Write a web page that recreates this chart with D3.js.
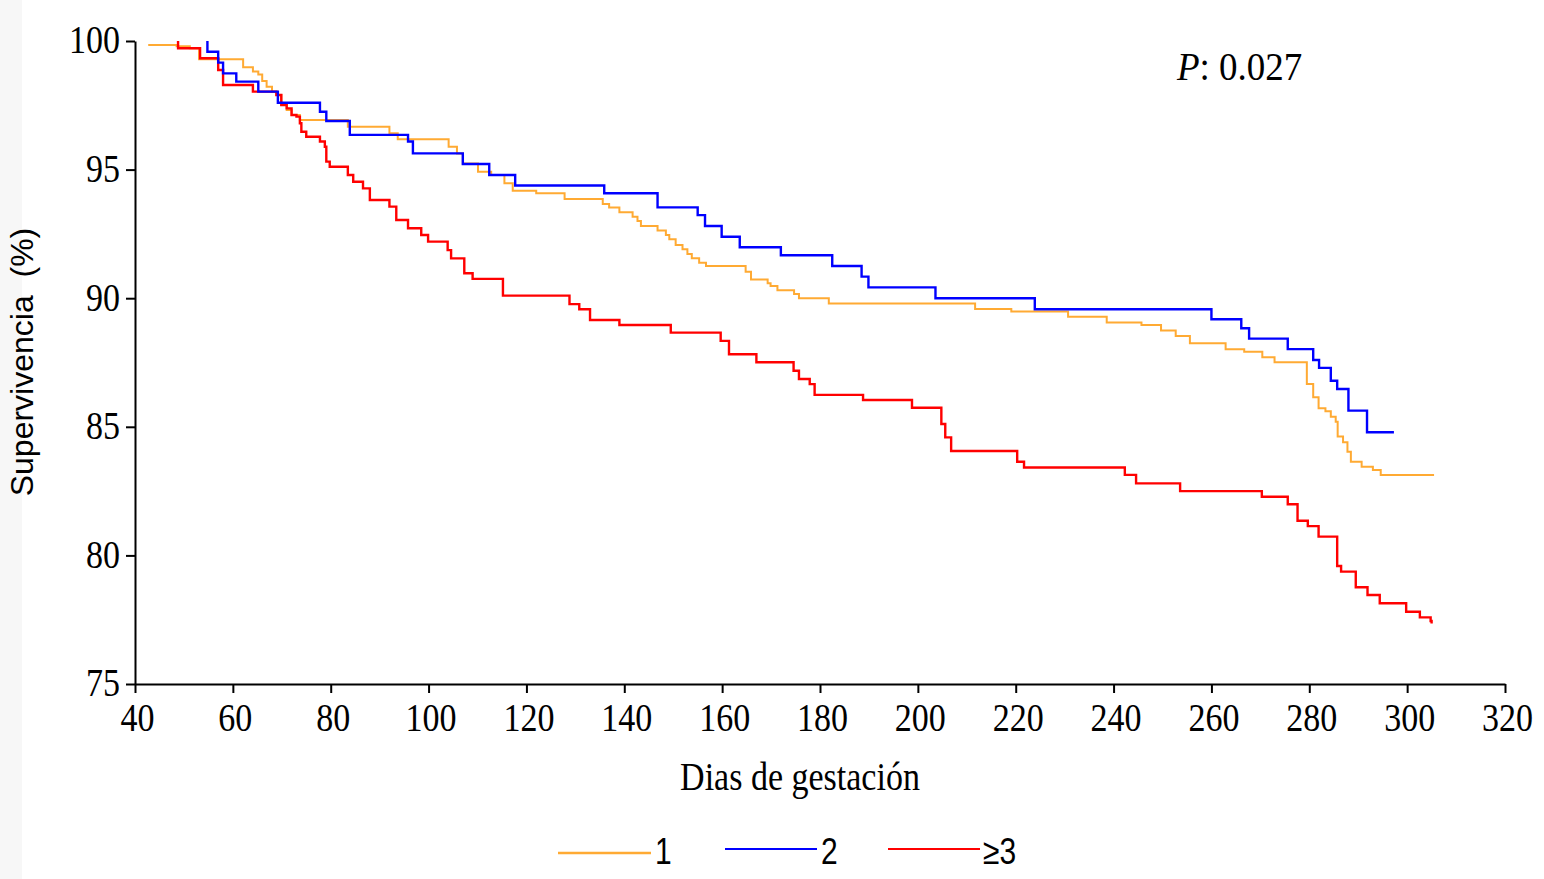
<!DOCTYPE html>
<html>
<head>
<meta charset="utf-8">
<script src="https://cdn.jsdelivr.net/npm/d3@7"></script>
<style>
    body { margin: 0; background: #ffffff; }
</style>
</head>
<body>
<svg id="chart"></svg>
<script>
// Kaplan-Meier curves (days, survival %)
const grp1Days = [42.7, 48.5, 51.2, 53.1, 62.1, 64.1, 65.2, 66.0, 66.9, 68.0, 68.9, 69.9, 71.0, 72.0, 73.7, 83.5, 92.0, 93.7, 104.1, 105.8, 107.0, 110.1, 112.8, 115.5, 117.2, 122.0, 127.8, 135.6, 136.9, 139.0, 141.7, 142.7, 143.4, 146.8, 148.5, 149.2, 150.5, 151.9, 152.9, 153.8, 155.3, 156.7, 164.8, 165.9, 169.3, 169.9, 171.3, 174.7, 175.7, 181.8, 211.7, 219.1, 230.7, 238.6, 245.7, 249.7, 252.7, 255.6, 262.9, 266.7, 270.4, 272.9, 279.5, 280.8, 281.9, 283.3, 284.4, 285.4, 285.8, 286.9, 287.8, 288.5, 290.7, 293.0, 294.6, 305.5];
const grp1Surv = [99.84, 99.80, 99.72, 99.29, 98.98, 98.81, 98.70, 98.44, 98.22, 98.03, 97.90, 97.51, 97.32, 97.12, 96.93, 96.67, 96.41, 96.18, 95.89, 95.63, 95.24, 94.92, 94.79, 94.47, 94.18, 94.08, 93.86, 93.66, 93.53, 93.34, 93.17, 93.00, 92.81, 92.63, 92.46, 92.29, 92.07, 91.90, 91.72, 91.55, 91.38, 91.25, 91.03, 90.73, 90.58, 90.47, 90.31, 90.16, 90.00, 89.79, 89.58, 89.48, 89.28, 89.06, 88.96, 88.74, 88.53, 88.25, 88.02, 87.92, 87.70, 87.51, 86.66, 86.15, 85.72, 85.60, 85.39, 85.20, 84.62, 84.40, 84.03, 83.64, 83.45, 83.32, 83.13, 83.13];

const grp2Days = [54.8, 54.8, 57.0, 58.0, 60.7, 65.2, 69.2, 77.8, 79.1, 83.9, 95.8, 96.8, 107.0, 112.4, 117.7, 135.9, 146.8, 155.0, 156.5, 159.9, 163.6, 172.0, 182.5, 188.5, 189.9, 203.6, 223.9, 260.0, 266.1, 267.7, 275.6, 280.8, 282.0, 284.4, 285.7, 288.0, 291.8, 297.3];
const grp2Surv = [100.0, 99.58, 99.16, 98.74, 98.42, 98.03, 97.60, 97.25, 96.89, 96.35, 96.09, 95.63, 95.22, 94.79, 94.38, 94.08, 93.53, 93.23, 92.81, 92.39, 91.98, 91.67, 91.25, 90.84, 90.42, 90.00, 89.57, 89.18, 88.83, 88.43, 88.02, 87.60, 87.29, 86.79, 86.47, 85.63, 84.79, 84.79];

const grp3Days = [48.8, 48.8, 53.3, 57.0, 58.0, 64.1, 68.9, 69.9, 71.0, 72.0, 73.0, 73.7, 74.0, 75.0, 77.8, 78.8, 79.1, 79.8, 83.5, 84.6, 86.6, 88.0, 92.0, 93.4, 95.8, 98.5, 99.9, 103.9, 104.6, 107.3, 109.0, 115.2, 128.8, 130.8, 133.0, 139.0, 149.5, 159.7, 161.4, 167.0, 174.6, 175.7, 177.9, 178.9, 188.8, 198.8, 204.8, 205.6, 206.8, 220.3, 221.7, 242.3, 244.6, 253.6, 270.3, 275.6, 277.6, 279.7, 281.9, 285.7, 286.5, 289.5, 291.9, 294.4, 299.8, 302.6, 304.8, 305.0];
const grp3Surv = [100.0, 99.72, 99.33, 98.87, 98.29, 98.03, 97.90, 97.51, 97.38, 97.12, 97.06, 96.80, 96.47, 96.28, 96.09, 95.89, 95.31, 95.11, 94.79, 94.53, 94.27, 93.82, 93.56, 93.04, 92.72, 92.46, 92.20, 91.87, 91.55, 90.97, 90.75, 90.10, 89.77, 89.57, 89.15, 88.96, 88.66, 88.34, 87.82, 87.51, 87.18, 86.86, 86.66, 86.24, 86.04, 85.74, 85.11, 84.59, 84.06, 83.64, 83.42, 83.13, 82.80, 82.50, 82.28, 81.99, 81.35, 81.14, 80.73, 79.59, 79.37, 78.76, 78.46, 78.14, 77.81, 77.59, 77.45, 77.35];

const groupLabels = ["1", "2", "\u22653"];
const groupColors = ["#ffaa33", "#0000ff", "#ff0000"];
const xTicks = [40, 60, 80, 100, 120, 140, 160, 180, 200, 220, 240, 260, 280, 300, 320];
const yTicks = [75, 80, 85, 90, 95, 100];
const pText = "0.027";

var svgWidth = 1544;
var svgHeight = 879;
var serif = "'Liberation Serif', 'Times New Roman', serif";
var sans = "'Liberation Sans', Arial, sans-serif";

var svg = d3.select("#chart")
    .attr("width", svgWidth)
    .attr("height", svgHeight);

// faint grey strip on the left edge of the screenshot
svg.append("rect")
    .attr("x", 0).attr("y", 0)
    .attr("width", 22).attr("height", svgHeight)
    .attr("fill", "#f7f7f7");

var xScale = d3.scaleLinear().domain([40, 320]).range([135, 1505]);
var yScale = d3.scaleLinear().domain([75, 100]).range([684, 41]);

// x axis
var xAxis = svg.append("g")
    .attr("transform", "translate(0,684)")
    .call(d3.axisBottom(xScale).tickValues(xTicks).tickSize(9).tickSizeOuter(0));
xAxis.selectAll("path, line").attr("stroke", "#000").attr("stroke-width", 2);
xAxis.selectAll("text")
    .attr("x", 2)
    .attr("y", 47 / 1.16)
    .attr("dy", 0)
    .attr("transform", "scale(1,1.16)")
    .attr("fill", "#000")
    .style("font-family", serif)
    .style("font-size", "34px");

// y axis
var yAxis = svg.append("g")
    .attr("transform", "translate(135,0)")
    .call(d3.axisLeft(yScale).tickValues(yTicks).tickSize(9).tickSizeOuter(0));
yAxis.selectAll("path, line").attr("stroke", "#000").attr("stroke-width", 2);
yAxis.selectAll("text")
    .attr("x", -15)
    .attr("dy", "0.3em")
    .attr("transform", "scale(1,1.16)")
    .attr("fill", "#000")
    .style("font-family", serif)
    .style("font-size", "34px");

// axis titles
svg.append("text")
    .attr("transform", "translate(800,790) scale(1,1.17)")
    .attr("text-anchor", "middle")
    .style("font-family", serif)
    .style("font-size", "34px")
    .text("Dias de gestación");

svg.append("text")
    .attr("transform", "translate(33,362) rotate(-90)")
    .attr("text-anchor", "middle")
    .style("font-family", sans)
    .style("font-size", "32px")
    .style("white-space", "pre")
    .text("Supervivencia  (%)");

// p value
var pLabel = svg.append("text")
    .attr("transform", "translate(1177,80) scale(1,1.1)")
    .style("font-family", serif)
    .style("font-size", "37px");
pLabel.append("tspan").style("font-style", "italic").text("P");
pLabel.append("tspan").text(": " + pText);

// survival curves (step functions), orange drawn first
var series = [
    { days: grp1Days, surv: grp1Surv, width: 2, idx: 0 },
    { days: grp3Days, surv: grp3Surv, width: 2.4, idx: 2 },
    { days: grp2Days, surv: grp2Surv, width: 2.4, idx: 1 }
];

var line = d3.line()
    .x(function (d) { return xScale(d[0]); })
    .y(function (d) { return yScale(d[1]); })
    .curve(d3.curveStepAfter);

series.forEach(function (s) {
    var pts = s.days.map(function (t, i) { return [t, s.surv[i]]; });
    svg.append("path")
        .datum(pts)
        .attr("fill", "none")
        .attr("stroke", groupColors[s.idx])
        .attr("stroke-width", s.width)
        .attr("d", line);
});

// legend
var legendPos = [
    { x1: 558, x2: 651, y: 853, tx: 655 },
    { x1: 725, x2: 817, y: 849, tx: 821 },
    { x1: 888, x2: 980, y: 849, tx: 983 }
];
groupLabels.forEach(function (lab, i) {
    var p = legendPos[i];
    svg.append("line")
        .attr("x1", p.x1).attr("x2", p.x2)
        .attr("y1", p.y).attr("y2", p.y)
        .attr("stroke", groupColors[i])
        .attr("stroke-width", i == 0 ? 2.4 : 2);
    svg.append("text")
        .attr("transform", "translate(" + p.tx + ",864) scale(1,1.2)")
        .style("font-family", sans)
        .style("font-size", "30px")
        .text(lab);
});
</script>
</body>
</html>
